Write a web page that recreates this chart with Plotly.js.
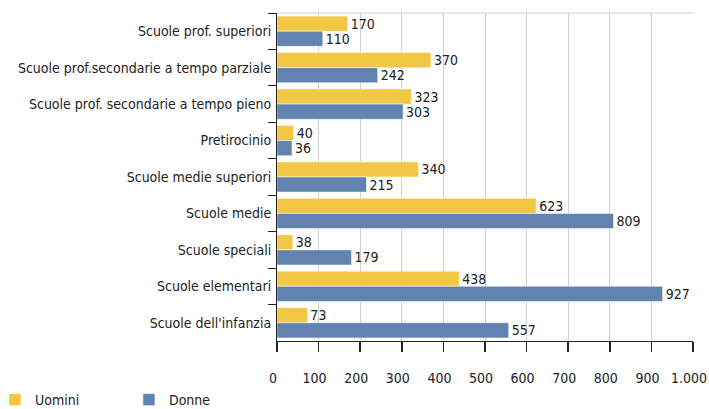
<!DOCTYPE html>
<html><head><meta charset="utf-8">
<script src="https://cdn.plot.ly/plotly-3.0.1.min.js"></script>
<style>body{margin:0;background:#fff}#c{width:709px;height:409px}</style>
</head><body><div id="c"></div>
<script>
var categories = ["Scuole prof. superiori","Scuole prof.secondarie a tempo parziale","Scuole prof. secondarie a tempo pieno","Pretirocinio","Scuole medie superiori","Scuole medie","Scuole speciali","Scuole elementari","Scuole dell'infanzia"];
var uomini = [170,370,323,40,340,623,38,438,73];
var donne = [110,242,303,36,215,809,179,927,557];
var xTicks = [0,100,200,300,400,500,600,700,800,900,1000];
var xTickText = ["0","100","200","300","400","500","600","700","800","900","1.000"];

var F = "'DejaVu Sans Condensed','Liberation Sans Narrow','Arial Narrow',sans-serif";
var traces = [
 {type:'bar',orientation:'h',name:'Uomini',y:categories,x:uomini,text:uomini.map(String),textposition:'outside',cliponaxis:false,constraintext:'none',
  marker:{color:'#F2C744',line:{color:'#ffffff',width:0.5}},textfont:{family:F,size:14,color:'#222'}},
 {type:'bar',orientation:'h',name:'Donne',y:categories,x:donne,text:donne.map(String),textposition:'outside',cliponaxis:false,constraintext:'none',
  marker:{color:'#6283B0',line:{color:'#ffffff',width:0.5}},textfont:{family:F,size:14,color:'#222'}}
];
var layout = {
 width:709,height:409,margin:{l:277,r:16,t:13,b:68,autoexpand:false},
 paper_bgcolor:'#fff',plot_bgcolor:'#fff',
 font:{family:F,size:14,color:'#222'},
 barmode:'group',bargap:0.17,bargroupgap:0,
 xaxis:{range:[0,1000],tickvals:xTicks,ticktext:xTickText,showgrid:true,gridcolor:'#d0d0d0',gridwidth:1,automargin:false,
  showline:true,linecolor:'#222',linewidth:1,ticks:'outside',ticklen:10,tickwidth:1.5,tickcolor:'#222',ticklabelstandoff:14,ticklabelshift:-4,ticklabeloverflow:'allow',zeroline:false},
 yaxis:{autorange:'reversed',automargin:false,showline:true,linecolor:'#222',linewidth:1,ticks:'outside',tickson:'boundaries',ticklen:8,tickwidth:1,tickcolor:'#222',showgrid:false,ticklabelstandoff:2},
 showlegend:true,
 legend:{orientation:'h',x:-0.678,xanchor:'left',y:-0.18,yanchor:'middle',entrywidth:89,entrywidthmode:'pixels',font:{family:F,size:14,color:'#222'},traceorder:'normal'},
 shapes:[{type:'line',xref:'paper',yref:'paper',x0:0,x1:1,y0:1,y1:1,line:{color:'#d0d0d0',width:1}}]
};
Plotly.newPlot('c',traces,layout,{displayModeBar:false,staticPlot:true});
</script></body></html>
